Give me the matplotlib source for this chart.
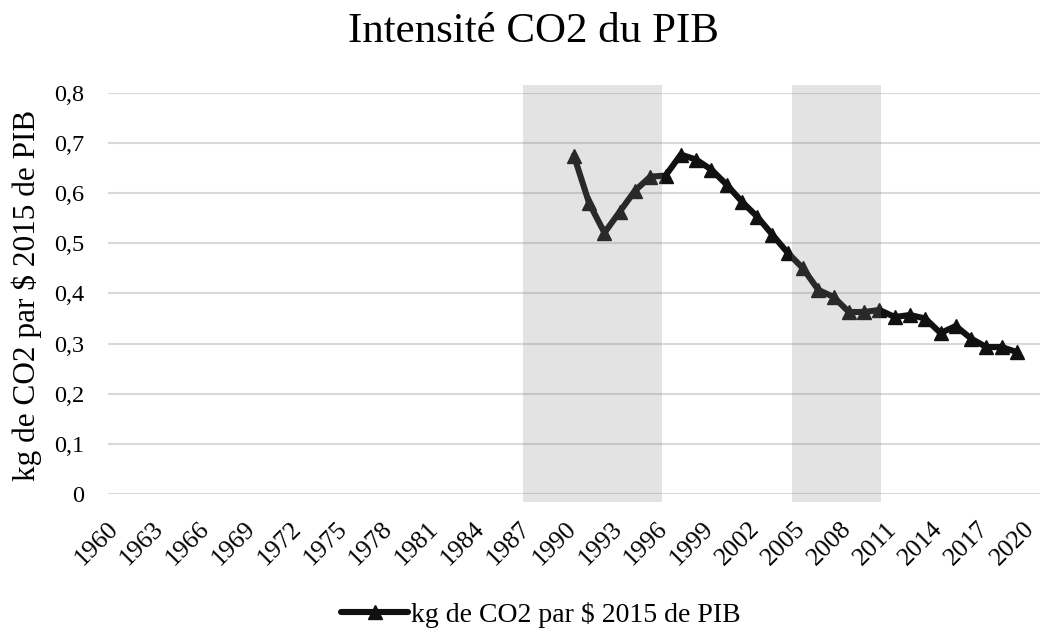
import numpy as np
import matplotlib.pyplot as plt
import matplotlib.transforms as mtransforms
from matplotlib.patches import Rectangle

# --- data ---
years = list(range(1990, 2020))
intensity = [0.675, 0.580, 0.521, 0.563, 0.605, 0.633, 0.635, 0.677, 0.667, 0.647,
             0.617, 0.583, 0.553, 0.517, 0.481, 0.450, 0.407, 0.393, 0.363, 0.363,
             0.367, 0.353, 0.357, 0.350, 0.321, 0.335, 0.310, 0.293, 0.293, 0.283]
tick_years = list(range(1960, 2021, 3))
y_ticks = [0, 0.1, 0.2, 0.3, 0.4, 0.5, 0.6, 0.7, 0.8]
y_labels = ["0", "0,1", "0,2", "0,3", "0,4", "0,5", "0,6", "0,7", "0,8"]
shaded = [(1986.7, 1995.8), (2004.3, 2010.1)]

plt.rcParams['font.family'] = ['Liberation Serif', 'DejaVu Serif']

fig = plt.figure(figsize=(10.44, 6.32), dpi=100)
ax = fig.add_axes([0.1034, 0.2184, 0.8926, 0.6346])

label = "kg de CO2 par $ 2015 de PIB"
ax.plot(years, intensity, color='#111111', lw=4.4, marker='^', ms=10,
        solid_capstyle='round', solid_joinstyle='round', label=label, zorder=3)

# shaded periods drawn on top, a bit past the plot area
for x0, x1 in shaded:
    ax.add_patch(Rectangle((x0, -0.016), x1 - x0, 0.832, facecolor='#818181',
                           alpha=0.22, edgecolor='none', clip_on=False, zorder=4))

ax.set_xlim(1959.5, 2020.5)
ax.set_ylim(0, 0.8)
ax.set_yticks(y_ticks)
ax.set_yticklabels(y_labels, fontsize=17.5)
ax.set_xticks(tick_years)
ax.set_xticklabels([str(y) for y in tick_years], rotation=45, ha='right',
                   va='baseline', rotation_mode='anchor', fontsize=18.5)
ax.tick_params(axis='y', length=0, pad=17)
ax.tick_params(axis='x', length=0, pad=26)
shift = mtransforms.ScaledTranslation(3 / 100, 0, fig.dpi_scale_trans)
for t in ax.get_xticklabels():
    t.set_transform(t.get_transform() + shift)
ax.yaxis.grid(True, color='#d9d9d9', lw=1.5)
ax.set_axisbelow(True)
for s in ax.spines.values():
    s.set_visible(False)

fig.text(0.026, 0.532, label, rotation=90, ha='center', va='center', fontsize=22.5)
fig.text(0.511, 0.9335, "Intensité CO2 du PIB", ha='center', va='baseline', fontsize=31)

fig.legend(loc='center', bbox_to_anchor=(0.518, 0.027), frameon=False, fontsize=20,
           handlelength=2.4, handletextpad=0.1)

fig.savefig("out.png", dpi=100)
